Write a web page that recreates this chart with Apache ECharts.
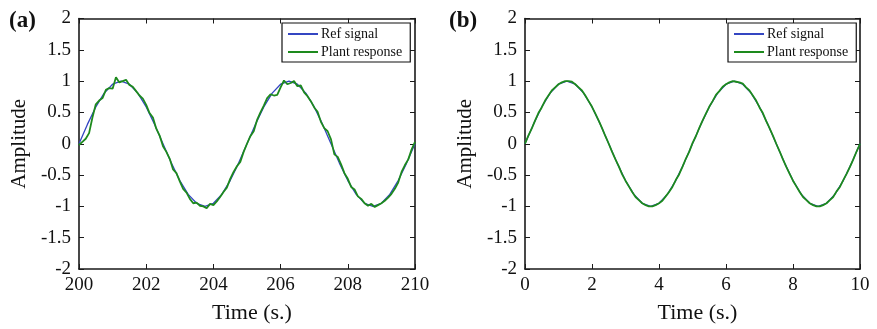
<!DOCTYPE html>
<html>
<head>
<meta charset="utf-8">
<script src="https://cdn.jsdelivr.net/npm/echarts@6/dist/echarts.min.js"></script>
<style>
html,body{margin:0;padding:0;background:#fff;}
#c{width:877px;height:329px;}
</style>
</head>
<body>
<div id="c"></div>
<script>
// ---- Data ----
var seriesNames = ['Ref signal', 'Plant response'];
var yTicks = [-2, -1.5, -1, -0.5, 0, 0.5, 1, 1.5, 2];
var xTicksA = [200, 202, 204, 206, 208, 210];
var xTicksB = [0, 2, 4, 6, 8, 10];

// Panel (a): reference signal samples (s)
var timeRefA = [200,200.25,200.5,200.75,201,201.25,201.5,201.75,202,202.25,202.5,202.75,203,203.25,203.5,203.75,204,204.25,204.5,204.75,205,205.25,205.5,205.75,206,206.25,206.5,206.75,207,207.25,207.5,207.75,208,208.25,208.5,208.75,209,209.25,209.5,209.75,210];
var refA = [0,0.309,0.588,0.809,0.951,1,0.951,0.809,0.588,0.309,0,-0.309,-0.588,-0.809,-0.951,-1,-0.951,-0.809,-0.588,-0.309,0,0.309,0.588,0.809,0.951,1,0.951,0.809,0.588,0.309,0,-0.309,-0.588,-0.809,-0.951,-1,-0.951,-0.809,-0.588,-0.309,0];

// Panel (a): plant response samples
var timePlantA = [200.0,200.1,200.2,200.3,200.4,200.5,200.6,200.7,200.8,200.9,201.0,201.1,201.2,201.3,201.4,201.5,201.6,201.7,201.8,201.9,202.0,202.1,202.2,202.3,202.4,202.5,202.6,202.7,202.8,202.9,203.0,203.1,203.2,203.3,203.4,203.5,203.6,203.7,203.8,203.9,204.0,204.1,204.2,204.3,204.4,204.5,204.6,204.7,204.8,204.9,205.0,205.1,205.2,205.3,205.4,205.5,205.6,205.7,205.8,205.9,206.0,206.1,206.2,206.3,206.4,206.5,206.6,206.7,206.8,206.9,207.0,207.1,207.2,207.3,207.4,207.5,207.6,207.7,207.8,207.9,208.0,208.1,208.2,208.3,208.4,208.5,208.6,208.7,208.8,208.9,209.0,209.1,209.2,209.3,209.4,209.5,209.6,209.7,209.8,209.9,210.0];
var plantA = [-0.02,0.03,0.08,0.17,0.42,0.63,0.69,0.73,0.86,0.89,0.88,1.06,0.98,1.0,1.02,0.94,0.91,0.84,0.77,0.72,0.62,0.49,0.42,0.24,0.13,-0.04,-0.13,-0.24,-0.41,-0.47,-0.60,-0.72,-0.78,-0.88,-0.95,-0.94,-0.99,-1.0,-1.03,-0.96,-0.98,-0.92,-0.85,-0.77,-0.70,-0.56,-0.45,-0.36,-0.29,-0.13,0.0,0.12,0.20,0.38,0.50,0.61,0.73,0.79,0.77,0.78,0.90,1.01,0.95,0.97,1.0,0.92,0.93,0.82,0.76,0.68,0.58,0.51,0.35,0.25,0.20,0.07,-0.17,-0.21,-0.33,-0.47,-0.56,-0.69,-0.73,-0.84,-0.88,-0.95,-0.99,-0.96,-1.01,-0.98,-0.95,-0.91,-0.86,-0.80,-0.72,-0.62,-0.45,-0.34,-0.25,-0.09,0.03];

// Panel (b): reference signal samples
var timeRefB = [0,0.25,0.5,0.75,1,1.25,1.5,1.75,2,2.25,2.5,2.75,3,3.25,3.5,3.75,4,4.25,4.5,4.75,5,5.25,5.5,5.75,6,6.25,6.5,6.75,7,7.25,7.5,7.75,8,8.25,8.5,8.75,9,9.25,9.5,9.75,10];
var refB = [0,0.309,0.588,0.809,0.951,1,0.951,0.809,0.588,0.309,0,-0.309,-0.588,-0.809,-0.951,-1,-0.951,-0.809,-0.588,-0.309,0,0.309,0.588,0.809,0.951,1,0.951,0.809,0.588,0.309,0,-0.309,-0.588,-0.809,-0.951,-1,-0.951,-0.809,-0.588,-0.309,0];

// Panel (b): plant response samples
var timePlantB = [0.0,0.1,0.2,0.3,0.4,0.5,0.6,0.7,0.8,0.9,1.0,1.1,1.2,1.3,1.4,1.5,1.6,1.7,1.8,1.9,2.0,2.1,2.2,2.3,2.4,2.5,2.6,2.7,2.8,2.9,3.0,3.1,3.2,3.3,3.4,3.5,3.6,3.7,3.8,3.9,4.0,4.1,4.2,4.3,4.4,4.5,4.6,4.7,4.8,4.9,5.0,5.1,5.2,5.3,5.4,5.5,5.6,5.7,5.8,5.9,6.0,6.1,6.2,6.3,6.4,6.5,6.6,6.7,6.8,6.9,7.0,7.1,7.2,7.3,7.4,7.5,7.6,7.7,7.8,7.9,8.0,8.1,8.2,8.3,8.4,8.5,8.6,8.7,8.8,8.9,9.0,9.1,9.2,9.3,9.4,9.5,9.6,9.7,9.8,9.9,10.0];
var plantB = [0.00,0.13,0.24,0.37,0.49,0.58,0.69,0.77,0.85,0.90,0.95,0.98,1.00,1.00,0.99,0.95,0.90,0.85,0.77,0.68,0.59,0.48,0.37,0.25,0.12,0.00,-0.13,-0.25,-0.36,-0.49,-0.59,-0.68,-0.77,-0.85,-0.90,-0.95,-0.98,-1.00,-1.00,-0.98,-0.95,-0.91,-0.84,-0.77,-0.69,-0.58,-0.49,-0.37,-0.24,-0.13,0.01,0.12,0.25,0.37,0.48,0.59,0.68,0.78,0.84,0.91,0.95,0.98,1.00,0.99,0.98,0.96,0.90,0.85,0.77,0.69,0.58,0.49,0.36,0.25,0.13,0.00,-0.12,-0.25,-0.37,-0.48,-0.59,-0.68,-0.77,-0.85,-0.90,-0.95,-0.98,-1.00,-1.00,-0.98,-0.95,-0.90,-0.85,-0.76,-0.69,-0.58,-0.48,-0.37,-0.25,-0.12,0.00];

// ---- Chart ----
function zip(xs, ys) { return xs.map(function (x, i) { return [x, ys[i]]; }); }

var FONT = "'Liberation Serif','Times New Roman',serif";
var AX = '#1a1a1a';
var BLUE = '#3446c2';
var GREEN = '#1d8a1d';

function xAxes(gridIndex, ticks) {
  var base = {
    type: 'value', gridIndex: gridIndex,
    min: ticks[0], max: ticks[ticks.length - 1], interval: ticks[1] - ticks[0],
    splitLine: { show: false },
    axisLine: { show: true, onZero: false, lineStyle: { color: AX, width: 1.6 } },
    axisTick: { show: true, inside: true, length: 5, lineStyle: { color: AX, width: 1 } }
  };
  return [
    Object.assign({}, base, {
      position: 'bottom',
      name: 'Time (s.)', nameLocation: 'middle', nameGap: 33,
      nameTextStyle: { fontFamily: FONT, fontSize: 22, color: '#111', padding: [0, 0, 0, 10] },
      axisLabel: { show: true, margin: 7, fontFamily: FONT, fontSize: 19, color: '#111' }
    }),
    Object.assign({}, base, { position: 'top', axisLabel: { show: false } })
  ];
}
function yAxes(gridIndex) {
  var base = {
    type: 'value', gridIndex: gridIndex,
    min: yTicks[0], max: yTicks[yTicks.length - 1], interval: 0.5,
    splitLine: { show: false },
    axisLine: { show: true, onZero: false, lineStyle: { color: AX, width: 1.6 } },
    axisTick: { show: true, inside: true, length: 5, lineStyle: { color: AX, width: 1 } }
  };
  return [
    Object.assign({}, base, {
      position: 'left',
      name: 'Amplitude', nameLocation: 'middle', nameGap: 49,
      nameTextStyle: { fontFamily: FONT, fontSize: 21, color: '#111' },
      axisLabel: { show: true, margin: 8, fontFamily: FONT, fontSize: 19, color: '#111' }
    }),
    Object.assign({}, base, { position: 'right', axisLabel: { show: false } })
  ];
}
function legend(left) {
  return {
    data: seriesNames,
    orient: 'vertical',
    left: left, top: 23,
    padding: [4, 8, 3, 6],
    itemGap: 4,
    icon: 'rect',
    itemWidth: 30, itemHeight: 2,
    borderColor: '#111', borderWidth: 1.2,
    backgroundColor: '#fff',
    selectedMode: false,
    textStyle: { fontFamily: FONT, fontSize: 14, lineHeight: 14, color: '#111', padding: [0, 0, 0, -2] }
  };
}
function line(name, xi, yi, data, color, w, z) {
  return {
    name: name, type: 'line', xAxisIndex: xi, yAxisIndex: yi,
    data: data, symbol: 'none', smooth: false, z: z,
    lineStyle: { color: color, width: w }, itemStyle: { color: color },
    animation: false
  };
}

var chart = echarts.init(document.getElementById('c'), null, { renderer: 'canvas' });
chart.setOption({
  animation: false,
  backgroundColor: '#fff',
  title: [
    { text: '(a)', left: 4, top: 5, textStyle: { fontFamily: FONT, fontWeight: 'bold', fontSize: 23, color: '#111' } },
    { text: '(b)', left: 444, top: 5, textStyle: { fontFamily: FONT, fontWeight: 'bold', fontSize: 23, color: '#111' } }
  ],
  grid: [
    { left: 79, top: 18.5, width: 336, height: 252, containLabel: false },
    { left: 525, top: 18.5, width: 335, height: 252, containLabel: false }
  ],
  legend: [legend(282), legend(728)],
  xAxis: xAxes(0, xTicksA).concat(xAxes(1, xTicksB)),
  yAxis: yAxes(0).concat(yAxes(1)),
  series: [
    line(seriesNames[0], 0, 0, zip(timeRefA, refA), BLUE, 1.3, 2),
    line(seriesNames[1], 0, 0, zip(timePlantA, plantA), GREEN, 1.8, 3),
    line(seriesNames[0], 2, 2, zip(timeRefB, refB), BLUE, 1.3, 2),
    line(seriesNames[1], 2, 2, zip(timePlantB, plantB), GREEN, 1.8, 3)
  ]
});
</script>
</body>
</html>
